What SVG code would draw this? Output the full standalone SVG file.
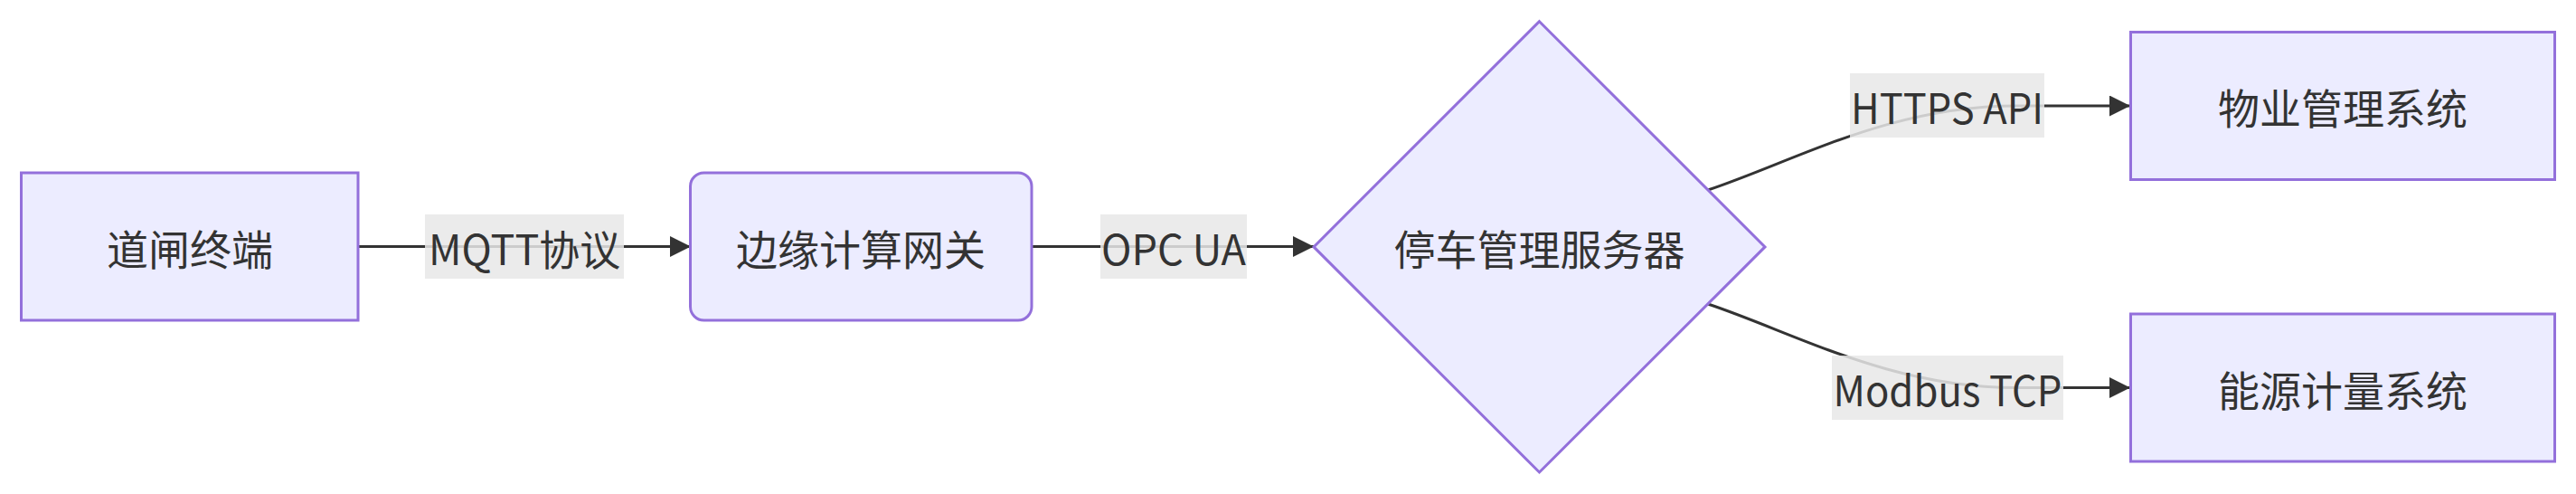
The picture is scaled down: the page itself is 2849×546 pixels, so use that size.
<svg xmlns="http://www.w3.org/2000/svg" width="2849" height="546" viewBox="0 0 2849 546">
<style>
.node{fill:#ECECFF;stroke:#9370DB;stroke-width:3}
.edge{fill:none;stroke:#333333;stroke-width:3}
.lbl{fill:#e8e8e8;fill-opacity:0.85}
text{font-family:"Noto Sans CJK SC","Noto Sans",sans-serif;font-size:46px;fill:#333333;text-anchor:middle;dominant-baseline:central}
</style>
<defs>
<marker id="arr" markerUnits="userSpaceOnUse" viewBox="0 0 10 10" markerWidth="24" markerHeight="23" refX="10" refY="5" orient="auto">
<path d="M0,0 L10,5 L0,10 z" fill="#333333"/>
</marker>
</defs>
<rect width="2849" height="546" fill="#ffffff"/>
<g id="connectors">
<path class="edge" d="M396,272.5 L764,272.5" marker-end="url(#arr)"/>
<path class="edge" d="M1141,272.5 L1453,272.5" marker-end="url(#arr)"/>
<path class="edge" d="M1889,210 C1985,178 2090,117 2230,117 L2356,117" marker-end="url(#arr)"/>
<path class="edge" d="M1889,336 C1985,368 2090,428.5 2230,428.5 L2356,428.5" marker-end="url(#arr)"/>
<g id="label-mqtt"><rect class="lbl" x="470" y="237" width="220" height="71"/><text x="580" y="272.5" textLength="212" lengthAdjust="spacingAndGlyphs">MQTT协议</text></g>
<g id="label-opc"><rect class="lbl" x="1217" y="237" width="162" height="71"/><text x="1298" y="272.5" textLength="160" lengthAdjust="spacingAndGlyphs">OPC UA</text></g>
<g id="label-https"><rect class="lbl" x="2046" y="81" width="215" height="71"/><text x="2153.5" y="117" textLength="213" lengthAdjust="spacingAndGlyphs">HTTPS API</text></g>
<g id="label-modbus"><rect class="lbl" x="2026" y="393" width="256" height="71"/><text x="2154" y="428.5" textLength="253" lengthAdjust="spacingAndGlyphs">Modbus TCP</text></g>
</g>
<g id="node-gate"><rect class="node" x="23.5" y="191" width="372.5" height="163"/><text x="210" y="272.5">道闸终端</text></g>
<g id="node-edge"><rect class="node" x="763.5" y="191" width="377.5" height="163" rx="15" ry="15"/><text x="952" y="272.5">边缘计算网关</text></g>
<g id="node-server"><polygon class="node" points="1702.5,23.7 1952,272.9 1702.5,522 1453,272.9"/><text x="1702.5" y="272.5">停车管理服务器</text></g>
<g id="node-property"><rect class="node" x="2356.5" y="35.5" width="469" height="163"/><text x="2591" y="117">物业管理系统</text></g>
<g id="node-energy"><rect class="node" x="2356.5" y="347" width="469" height="163"/><text x="2591" y="428.5">能源计量系统</text></g>
</svg>
